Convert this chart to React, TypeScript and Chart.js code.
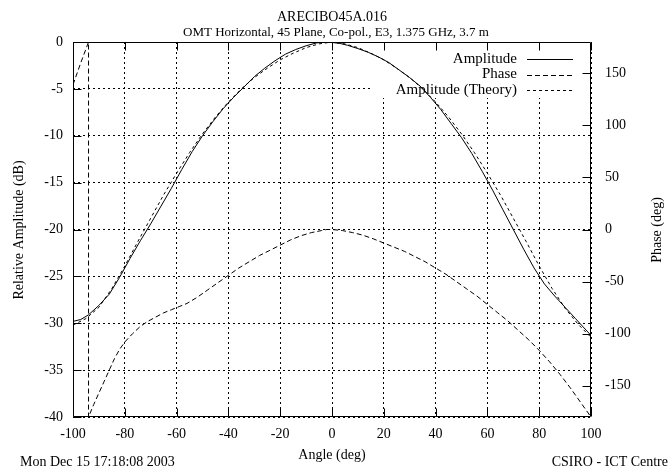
import { useEffect, useRef } from "react";
import { Chart, registerables } from "chart.js";

Chart.register(...registerables);

const titleLines = ["ARECIBO45A.016", "OMT Horizontal, 45 Plane, Co-pol., E3, 1.375 GHz, 3.7 m"];
const xTitle = "Angle (deg)";
const yTitle = "Relative Amplitude (dB)";
const y2Title = "Phase (deg)";
const footLeft = "Mon Dec 15 17:18:08 2003";
const footRight = "CSIRO - ICT Centre";
const legendLabels = ["Amplitude", "Phase", "Amplitude (Theory)"];

const angleTicks = [-100, -80, -60, -40, -20, 0, 20, 40, 60, 80, 100];
const ampTicks = [-40, -35, -30, -25, -20, -15, -10, -5, 0];
const phaseTicks = [-150, -100, -50, 0, 50, 100, 150];

const ampAngles = [-100, -97, -94, -90, -86, -82, -78, -74, -70, -66, -62, -58, -54, -50, -46, -42, -38, -34, -30, -26, -22, -18, -14, -10, -6, -3, 0, 3, 6, 10, 14, 18, 22, 26, 30, 34, 38, 42, 46, 50, 54, 58, 62, 66, 70, 74, 78, 82, 86, 90, 94, 97, 100];
const ampValues = [-29.8, -29.6, -29.1, -28.1, -26.9, -25.1, -23.1, -21.2, -19.4, -17.5, -15.6, -13.6, -11.7, -10.0, -8.5, -7.1, -5.9, -4.8, -3.7, -2.8, -2.0, -1.3, -0.8, -0.4, -0.1, 0, -0.05, -0.15, -0.35, -0.7, -1.1, -1.6, -2.2, -3.0, -3.8, -4.7, -5.9, -7.2, -8.7, -10.2, -11.9, -13.8, -15.8, -17.9, -20.0, -22.1, -24.1, -25.8, -27.1, -28.3, -29.5, -30.4, -31.3];

const theoryAngles = [-100, -95, -90, -85, -80, -75, -70, -65, -60, -55, -50, -45, -40, -35, -30, -25, -20, -15, -10, -5, 0, 5, 10, 15, 20, 25, 30, 35, 40, 45, 50, 55, 60, 65, 70, 75, 80, 85, 90, 95, 100];
const theoryValues = [-30.2, -29.5, -28.3, -26.3, -23.9, -21.3, -18.8, -16.3, -14.0, -11.8, -9.8, -8.0, -6.4, -5.0, -3.8, -2.8, -1.9, -1.2, -0.6, -0.2, 0, -0.2, -0.6, -1.2, -1.9, -2.8, -3.8, -5.0, -6.4, -8.0, -9.8, -11.8, -14.0, -16.3, -18.8, -21.3, -23.9, -26.3, -28.4, -30.1, -31.5];

const phaseAngles = [-100, -97, -94, -94, -92, -90, -88, -86, -84, -82, -80, -77, -74, -71, -68, -65, -62, -59, -56, -52, -48, -44, -40, -36, -32, -28, -24, -20, -16, -12, -8, -4, -2, 0, 4, 8, 12, 16, 20, 24, 28, 32, 36, 40, 44, 48, 52, 56, 60, 64, 68, 72, 76, 80, 84, 88, 92, 96, 100];
const phaseValues = [139, 160, 180, -180, -168, -157, -146, -135, -124, -115, -108, -100, -93, -88, -84, -80, -77, -74, -71, -65, -58, -51, -44, -37, -31, -25, -20, -15, -10, -6, -3, -1, 0, 0, -1, -3, -5.5, -9, -13, -17, -21, -26, -31, -37, -43, -50, -57, -64, -72, -80, -88, -97, -106, -116, -127, -139, -152, -166, -180];

const FONT = "'Liberation Serif', 'DejaVu Serif', serif";
const dashes: number[][] = [[], [5, 3], [3, 3]];

const pairs = (xs: number[], ys: number[]) => xs.map((x, i) => ({ x, y: ys[i] }));

const gnuPlugin = {
  id: "gnu",
  beforeDraw(chart: any) {
    const ctx = chart.ctx;
    ctx.save();
    ctx.fillStyle = "#fff";
    ctx.fillRect(0, 0, chart.width, chart.height);
    ctx.restore();
  },
  beforeDatasetsDraw(chart: any) {
    const { ctx, chartArea } = chart;
    ctx.save();
    ctx.fillStyle = "#fff";
    ctx.fillRect(372, chartArea.top + 1, chartArea.right - 372 - 1, 97 - chartArea.top);
    ctx.restore();
  },
  afterDatasetsDraw(chart: any) {
    const { ctx, chartArea } = chart;
    const { left, right, top, bottom } = chartArea;
    const xs = chart.scales.x;
    const ys = chart.scales.y;
    const y2 = chart.scales.y2;
    ctx.save();
    ctx.strokeStyle = "#000";
    ctx.lineWidth = 1;
    ctx.setLineDash([]);
    ctx.beginPath();
    const L = Math.round(left) + 0.5, R = Math.round(right) - 0.5, T = Math.round(top) + 0.5, B = Math.round(bottom) - 0.5;
    ctx.rect(L, T, R - L, B - T);
    const tl = 8;
    angleTicks.forEach((v) => {
      const px = Math.round(xs.getPixelForValue(v)) + 0.5;
      ctx.moveTo(px, T); ctx.lineTo(px, T + tl);
      ctx.moveTo(px, B); ctx.lineTo(px, B - tl);
    });
    ampTicks.forEach((v) => {
      const py = Math.round(ys.getPixelForValue(v)) + 0.5;
      ctx.moveTo(L, py); ctx.lineTo(L + tl, py);
    });
    phaseTicks.forEach((v) => {
      const py = Math.round(y2.getPixelForValue(v)) + 0.5;
      ctx.moveTo(R, py); ctx.lineTo(R - tl, py);
    });
    ctx.stroke();

    // legend
    ctx.font = "15px " + FONT;
    ctx.fillStyle = "#000";
    ctx.textAlign = "right";
    ctx.textBaseline = "middle";
    legendLabels.forEach((lab, i) => {
      const yy = 59 + i * 15.5;
      ctx.fillText(lab, 517, yy);
      ctx.beginPath();
      ctx.setLineDash(dashes[i]);
      ctx.moveTo(527, Math.round(yy) + 0.5);
      ctx.lineTo(573, Math.round(yy) + 0.5);
      ctx.stroke();
    });
    ctx.restore();
  },
  afterDraw(chart: any) {
    const ctx = chart.ctx;
    ctx.save();
    ctx.fillStyle = "#000";
    ctx.textBaseline = "middle";
    ctx.textAlign = "center";
    ctx.font = "14px " + FONT;
    ctx.fillText(titleLines[0], 332, 17);
    ctx.font = "13px " + FONT;
    ctx.fillText(titleLines[1], 336, 33);
    ctx.font = "14px " + FONT;
    ctx.fillText(xTitle, 332, 455);
    ctx.textAlign = "left";
    ctx.fillText(footLeft, 20, 462);
    ctx.textAlign = "right";
    ctx.fillText(footRight, 668, 462);
    ctx.textAlign = "center";
    ctx.save();
    ctx.translate(19, 230);
    ctx.rotate(-Math.PI / 2);
    ctx.fillText(yTitle, 0, 0);
    ctx.restore();
    ctx.save();
    ctx.translate(657, 230);
    ctx.rotate(-Math.PI / 2);
    ctx.fillText(y2Title, 0, 0);
    ctx.restore();
    ctx.restore();
  },
};

export default function App() {
  const ref = useRef<HTMLCanvasElement>(null);
  useEffect(() => {
    const canvas = ref.current!;
    const tickFont = { family: FONT, size: 14 };
    const chart = new Chart(canvas, {
      type: "line",
      data: {
        datasets: [
          { label: legendLabels[0], data: pairs(ampAngles, ampValues), yAxisID: "y", borderColor: "#000", borderWidth: 1, borderDash: dashes[0], pointRadius: 0, fill: false },
          { label: legendLabels[1], data: pairs(phaseAngles, phaseValues), yAxisID: "y2", borderColor: "#000", borderWidth: 1, borderDash: dashes[1], pointRadius: 0, fill: false },
          { label: legendLabels[2], data: pairs(theoryAngles, theoryValues), yAxisID: "y", borderColor: "#000", borderWidth: 1, borderDash: dashes[2], pointRadius: 0, fill: false },
        ],
      },
      options: {
        responsive: false,
        animation: false,
        devicePixelRatio: 1,
        layout: { padding: { top: 42, left: 0, right: 0, bottom: 0 } },
        plugins: { legend: { display: false }, title: { display: false }, tooltip: { enabled: false } },
        elements: { point: { radius: 0 }, line: { tension: 0 } },
        scales: {
          x: {
            type: "linear",
            min: -100,
            max: 100,
            afterBuildTicks: (s: any) => { s.ticks = angleTicks.map((v) => ({ value: v })); },
            afterFit: (s: any) => { s.height = 53; },
            grid: { color: "#000", lineWidth: 1, drawTicks: false },
            border: { display: false, dash: [2, 3] },
            ticks: { padding: 9, color: "#000", font: tickFont, maxRotation: 0, autoSkip: false },
          },
          y: {
            type: "linear",
            position: "left",
            min: -40,
            max: 0,
            afterBuildTicks: (s: any) => { s.ticks = ampTicks.map((v) => ({ value: v })); },
            afterFit: (s: any) => { s.width = 73; },
            grid: { color: "#000", lineWidth: 1, drawTicks: false },
            border: { display: false, dash: [2, 3] },
            ticks: { padding: 10, color: "#000", font: tickFont },
          },
          y2: {
            type: "linear",
            position: "right",
            min: -180,
            max: 180,
            afterBuildTicks: (s: any) => { s.ticks = phaseTicks.map((v) => ({ value: v })); },
            afterFit: (s: any) => { s.width = 81; },
            grid: { display: false, drawTicks: false },
            border: { display: false },
            ticks: { padding: 14, color: "#000", font: tickFont },
          },
        },
      },
      plugins: [gnuPlugin],
    } as any);
    return () => chart.destroy();
  }, []);
  return (
    <div style={{ position: "fixed", left: 0, top: 0, width: 672, height: 470, background: "#fff" }}>
      <canvas ref={ref} width={672} height={470} style={{ display: "block" }} />
    </div>
  );
}
